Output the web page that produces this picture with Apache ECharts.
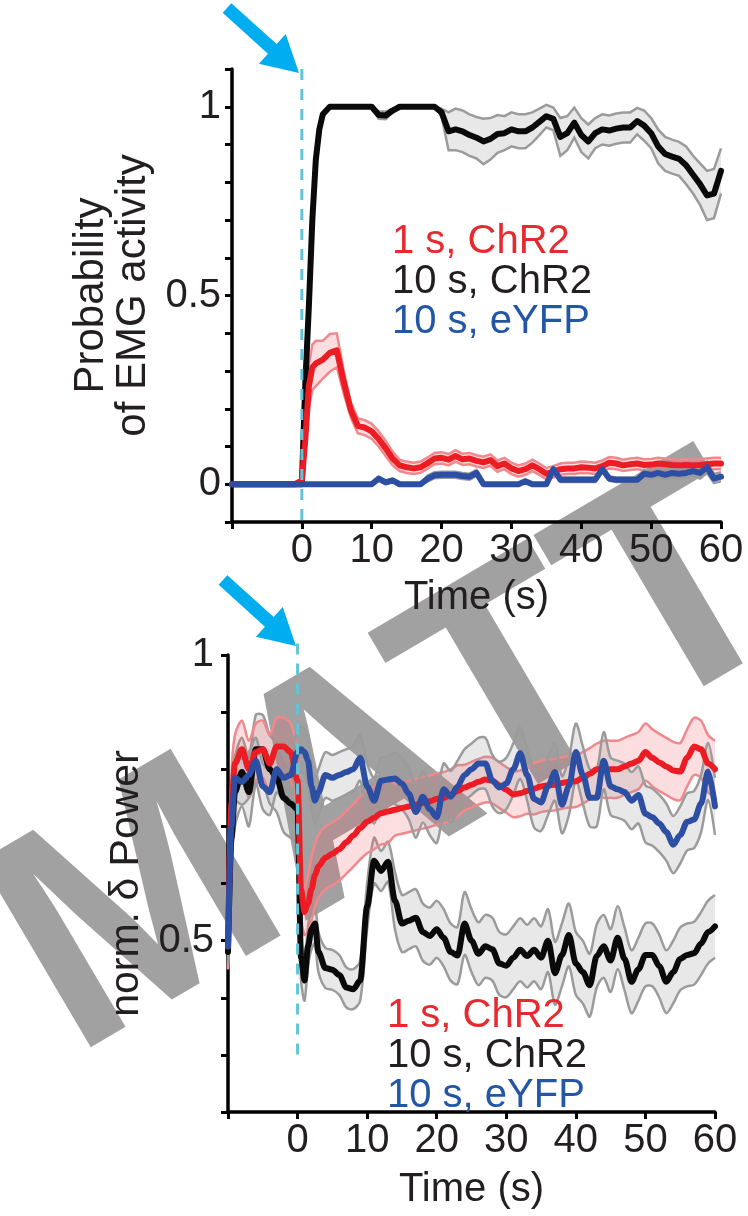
<!DOCTYPE html>
<html>
<head>
<meta charset="utf-8">
<script src="https://cdn.jsdelivr.net/npm/echarts@6/dist/echarts.min.js"></script>
<style>
  html, body { margin: 0; padding: 0; background: #ffffff; }
  #chart { width: 748px; height: 1216px; }
</style>
</head>
<body>
<div id="chart"></div>
<script>
// Sample times (s), shared by both panels
const time = [-10, -9.5, -9, -8, -7, -6, -5, -4, -3, -2, -1,
  0, 0.5, 1, 1.5, 2, 2.5, 3,
  4, 5, 6, 7, 8, 9, 10, 11, 12, 13,
  14, 15, 16, 17, 18, 19, 20, 21, 22, 23,
  24, 25, 26, 27, 28, 29, 30, 31, 32, 33,
  34, 35, 36, 37, 38, 39, 40, 41, 42, 43,
  44, 45, 46, 47, 48, 49, 50, 51, 52, 53,
  54, 55, 56, 57, 58, 59, 60];

const groupNames = ['1 s, ChR2', '10 s, ChR2', '10 s, eYFP'];

// Panel A: probability of EMG activity (mean and s.e.m.)
const emgRed = [0, 0, 0, 0, 0, 0, 0, 0, 0, 0, 0,
  0.01, 0.12, 0.26, 0.31, 0.32, 0.325, 0.33,
  0.348, 0.355, 0.27, 0.197, 0.155, 0.15, 0.14, 0.12, 0.095, 0.068,
  0.05, 0.045, 0.042, 0.045, 0.056, 0.068, 0.07, 0.065, 0.075, 0.066,
  0.068, 0.062, 0.058, 0.064, 0.048, 0.055, 0.042, 0.035, 0.04, 0.05,
  0.04, 0.028, 0.033, 0.04, 0.042, 0.042, 0.045, 0.044, 0.042, 0.048,
  0.057, 0.055, 0.05, 0.053, 0.055, 0.051, 0.052, 0.055, 0.053, 0.051,
  0.05, 0.051, 0.05, 0.051, 0.053, 0.055, 0.055];
const emgRedSem = [0, 0, 0, 0, 0, 0, 0, 0, 0, 0, 0,
  0.005, 0.03, 0.055, 0.06, 0.06, 0.055, 0.05,
  0.05, 0.045, 0.03, 0.02, 0.02, 0.02, 0.02, 0.02, 0.02, 0.018,
  0.015, 0.015, 0.015, 0.015, 0.015, 0.015, 0.015, 0.015, 0.015, 0.015,
  0.015, 0.015, 0.015, 0.015, 0.015, 0.015, 0.015, 0.015, 0.015, 0.015,
  0.015, 0.015, 0.015, 0.015, 0.015, 0.015, 0.015, 0.015, 0.015, 0.015,
  0.015, 0.015, 0.015, 0.015, 0.015, 0.015, 0.015, 0.015, 0.015, 0.015,
  0.015, 0.015, 0.015, 0.015, 0.015, 0.015, 0.015];
const emgBlack = [0, 0, 0, 0, 0, 0, 0, 0, 0, 0, 0,
  0, 0.27, 0.47, 0.70, 0.86, 0.94, 0.98,
  1, 1, 1, 1, 1, 1, 1, 0.978, 0.977, 0.99,
  1, 1, 1, 1, 1, 1, 0.985, 0.935, 0.94, 0.935,
  0.925, 0.918, 0.908, 0.915, 0.928, 0.93, 0.94, 0.935, 0.935, 0.945,
  0.96, 0.975, 0.968, 0.92, 0.93, 0.958, 0.925, 0.908, 0.93, 0.94,
  0.937, 0.942, 0.945, 0.945, 0.962, 0.95, 0.93, 0.895, 0.875, 0.868,
  0.862, 0.845, 0.82, 0.795, 0.765, 0.77, 0.83];
const emgBlackSem = [0, 0, 0, 0, 0, 0, 0, 0, 0, 0, 0,
  0, 0.01, 0.01, 0.01, 0.005, 0.005, 0,
  0, 0, 0, 0, 0, 0, 0, 0.01, 0.01, 0.005,
  0, 0, 0, 0, 0, 0, 0.01, 0.05, 0.055, 0.055,
  0.055, 0.055, 0.06, 0.055, 0.05, 0.045, 0.045, 0.045, 0.045, 0.04,
  0.035, 0.03, 0.03, 0.05, 0.045, 0.04, 0.045, 0.045, 0.04, 0.04,
  0.04, 0.04, 0.04, 0.04, 0.035, 0.04, 0.04, 0.045, 0.045, 0.045,
  0.045, 0.05, 0.05, 0.055, 0.065, 0.065, 0.06];
const emgBlue = [0, 0, 0, 0, 0, 0, 0, 0, 0, 0, 0,
  0, 0, 0, 0, 0, 0, 0,
  0, 0, 0, 0, 0, 0, 0, 0.015, 0.005, 0.01,
  0, 0, 0, 0, 0.015, 0.024, 0.025, 0.025, 0.025, 0.022,
  0.02, 0.03, 0, 0, 0, 0, 0, 0, 0.008, 0,
  0, 0, 0.04, 0.012, 0.012, 0.012, 0.012, 0.012, 0.012, 0.04,
  0.015, 0.012, 0.012, 0.012, 0.012, 0.028, 0.025, 0.03, 0.025, 0.03,
  0.028, 0.03, 0.035, 0.03, 0.045, 0.015, 0.02];
const emgBlueSem = [0, 0, 0, 0, 0, 0, 0, 0, 0, 0, 0,
  0, 0, 0, 0, 0, 0, 0,
  0, 0, 0, 0, 0, 0, 0, 0.005, 0.005, 0.005,
  0, 0, 0, 0, 0.008, 0.008, 0.008, 0.008, 0.008, 0.008,
  0.008, 0.008, 0, 0, 0, 0, 0, 0, 0.004, 0,
  0, 0, 0.006, 0.006, 0.006, 0.006, 0.006, 0.006, 0.006, 0.006,
  0.006, 0.006, 0.006, 0.006, 0.006, 0.01, 0.01, 0.012, 0.012, 0.012,
  0.012, 0.012, 0.012, 0.015, 0.015, 0.012, 0.012];

// Panel B: normalised delta power (mean and s.e.m.)
const deltaRed = [0.49, 0.74, 0.81, 0.835, 0.80, 0.83, 0.835, 0.81, 0.84, 0.84, 0.83,
  0.78, 0.59, 0.55, 0.565, 0.59, 0.615, 0.63,
  0.645, 0.652, 0.66, 0.672, 0.684, 0.697, 0.708, 0.715, 0.723, 0.726,
  0.729, 0.732, 0.735, 0.738, 0.741, 0.744, 0.748, 0.75, 0.755, 0.762,
  0.768, 0.773, 0.778, 0.782, 0.78, 0.772, 0.764, 0.756, 0.758, 0.762,
  0.766, 0.77, 0.772, 0.773, 0.776, 0.778, 0.779, 0.785, 0.792, 0.80,
  0.80, 0.80, 0.80, 0.805, 0.81, 0.815, 0.83, 0.82, 0.812, 0.805,
  0.798, 0.796, 0.82, 0.84, 0.835, 0.81, 0.80];
const deltaRedSem = [0.04, 0.05, 0.05, 0.05, 0.05, 0.05, 0.05, 0.05, 0.05, 0.05, 0.05,
  0.05, 0.045, 0.04, 0.05, 0.055, 0.055, 0.055,
  0.055, 0.055, 0.055, 0.055, 0.055, 0.055, 0.055, 0.055, 0.055, 0.055,
  0.045, 0.045, 0.045, 0.045, 0.045, 0.045, 0.045, 0.045, 0.045, 0.045,
  0.04, 0.04, 0.04, 0.04, 0.04, 0.04, 0.04, 0.04, 0.04, 0.04,
  0.045, 0.045, 0.045, 0.045, 0.045, 0.045, 0.045, 0.045, 0.045, 0.045,
  0.05, 0.05, 0.05, 0.05, 0.05, 0.05, 0.05, 0.05, 0.05, 0.05,
  0.05, 0.05, 0.05, 0.05, 0.05, 0.05, 0.05];
const deltaBlack = [0.48, 0.68, 0.76, 0.795, 0.76, 0.835, 0.835, 0.80, 0.785, 0.75, 0.74,
  0.73, 0.47, 0.43, 0.49, 0.52, 0.53, 0.48,
  0.452, 0.449, 0.44, 0.418, 0.415, 0.43, 0.56, 0.64, 0.622, 0.638,
  0.57, 0.53, 0.535, 0.54, 0.515, 0.508, 0.52, 0.505, 0.48, 0.474,
  0.53, 0.50, 0.477, 0.49, 0.485, 0.46, 0.456, 0.47, 0.484, 0.473,
  0.484, 0.47, 0.50, 0.443, 0.475, 0.51, 0.46, 0.445, 0.422, 0.473,
  0.49, 0.465, 0.505, 0.468, 0.428, 0.45, 0.475, 0.475, 0.455, 0.428,
  0.445, 0.468, 0.475, 0.478, 0.495, 0.515, 0.525];
const deltaBlackSem = [0.03, 0.05, 0.06, 0.06, 0.06, 0.06, 0.06, 0.06, 0.06, 0.06, 0.06,
  0.06, 0.04, 0.035, 0.035, 0.035, 0.035, 0.035,
  0.035, 0.035, 0.035, 0.035, 0.035, 0.035, 0.04, 0.04, 0.035, 0.035,
  0.05, 0.05, 0.05, 0.05, 0.05, 0.05, 0.05, 0.05, 0.05, 0.05,
  0.055, 0.055, 0.055, 0.055, 0.055, 0.055, 0.055, 0.055, 0.055, 0.055,
  0.055, 0.055, 0.055, 0.055, 0.055, 0.055, 0.055, 0.055, 0.055, 0.055,
  0.055, 0.055, 0.055, 0.055, 0.055, 0.055, 0.055, 0.055, 0.055, 0.055,
  0.055, 0.055, 0.055, 0.055, 0.055, 0.055, 0.055];
const deltaBlue = [0.49, 0.70, 0.785, 0.778, 0.79, 0.815, 0.77, 0.76, 0.80, 0.785, 0.79,
  0.83, 0.835, 0.83, 0.815, 0.77, 0.745, 0.76,
  0.79, 0.785, 0.79, 0.795, 0.80, 0.82, 0.77, 0.745, 0.78, 0.782,
  0.784, 0.775, 0.757, 0.725, 0.752, 0.73, 0.716, 0.765, 0.752, 0.77,
  0.79, 0.80, 0.81, 0.81, 0.78, 0.768, 0.775, 0.80, 0.828, 0.79,
  0.748, 0.742, 0.77, 0.795, 0.738, 0.77, 0.83, 0.79, 0.75, 0.75,
  0.815, 0.77, 0.765, 0.76, 0.745, 0.755, 0.722, 0.716, 0.705, 0.69,
  0.668, 0.685, 0.708, 0.712, 0.74, 0.796, 0.735];
const deltaBlueSem = [0.03, 0.04, 0.04, 0.04, 0.04, 0.04, 0.04, 0.04, 0.04, 0.04, 0.04,
  0.04, 0.04, 0.04, 0.04, 0.04, 0.04, 0.04,
  0.04, 0.04, 0.04, 0.04, 0.04, 0.04, 0.04, 0.04, 0.04, 0.04,
  0.045, 0.045, 0.045, 0.045, 0.045, 0.045, 0.045, 0.045, 0.045, 0.045,
  0.045, 0.045, 0.045, 0.045, 0.045, 0.045, 0.045, 0.045, 0.045, 0.045,
  0.05, 0.05, 0.05, 0.05, 0.05, 0.05, 0.05, 0.05, 0.05, 0.05,
  0.05, 0.05, 0.05, 0.05, 0.05, 0.05, 0.05, 0.05, 0.05, 0.05,
  0.05, 0.05, 0.05, 0.05, 0.05, 0.05, 0.05];

// Stimulus onset marker (t = 0), vertical extent in each panel
const cueTime = 0;
const cueSpanA = [1.1, -0.1];
const cueSpanB = [1.02, 0.3];

const FONT = '"Liberation Sans", Arial, Helvetica, sans-serif';
const INK = '#231f20';
const RED = '#ec1c24';
const BLACK = '#0a0a0a';
const BLUE = '#2c4ea3';
const RED_TXT = '#e62a2f';
const BLUE_TXT = '#2456a6';
const GRAY_EDGE = '#9b9b9b';
const PINK_EDGE = '#f0888c';
const GRAY_FILL = 'rgba(150,150,150,0.22)';
const PINK_FILL = 'rgba(240,90,100,0.2)';
const CUE = '#62c5d7';
const ARROW = '#00aeef';

function shadedBand(idx, mean, sem, fill, edge, smooth) {
  const rows = time.map((t, i) => [t, mean[i] - sem[i], mean[i] + sem[i]]);
  return {
    type: 'custom', xAxisIndex: idx, yAxisIndex: idx, silent: true, z: 2,
    data: rows, encode: { x: 0, y: [1, 2] },
    renderItem(params, api) {
      if (params.dataIndex !== 0) return null;
      const hi = rows.map(r => api.coord([r[0], r[2]]));
      const lo = rows.map(r => api.coord([r[0], r[1]]));
      return {
        type: 'group',
        children: [
          { type: 'polygon', shape: { points: hi.concat(lo.slice().reverse()), smooth: 0 }, style: { fill: fill } },
          { type: 'polyline', shape: { points: hi, smooth: smooth }, style: { stroke: edge, lineWidth: 2.5, fill: null } },
          { type: 'polyline', shape: { points: lo, smooth: smooth }, style: { stroke: edge, lineWidth: 2.5, fill: null } }
        ]
      };
    }
  };
}

function meanLine(idx, name, mean, color, z, smooth) {
  return {
    type: 'line', name: name, xAxisIndex: idx, yAxisIndex: idx,
    data: time.map((t, i) => [t, mean[i]]),
    symbol: 'none', showSymbol: false, smooth: smooth, smoothMonotone: 'x',
    lineStyle: { color: color, width: 6, join: 'round', cap: 'round' },
    itemStyle: { color: color }, z: z, silent: true
  };
}

function cueLine(idx, span) {
  return {
    type: 'line', xAxisIndex: idx, yAxisIndex: idx, silent: true, clip: false,
    data: span.map(v => [cueTime, v]), symbol: 'none', z: 6,
    lineStyle: { color: CUE, width: 3, type: [11, 9] }
  };
}

function xAxisCfg(idx) {
  return {
    type: 'value', gridIndex: idx, min: -10, max: 60, interval: 10,
    name: 'Time (s)', nameLocation: 'middle', nameGap: idx ? 58 : 56,
    nameTextStyle: { fontFamily: FONT, fontSize: 40, color: INK },
    axisLine: { onZero: false, lineStyle: { color: '#000', width: 3.5 } },
    axisTick: { length: 7, lineStyle: { color: '#000', width: 3 } },
    axisLabel: { margin: 9, fontFamily: FONT, fontSize: 40, color: INK,
      formatter: v => (v < 0 ? '' : String(v)) },
    splitLine: { show: false }
  };
}

function yLabel(keep) {
  return v => {
    for (const k of keep) if (Math.abs(v - k) < 1e-6) return String(k);
    return '';
  };
}

const option = {
  animation: false,
  backgroundColor: '#ffffff',
  grid: [
    { left: 232, top: 69, width: 489, height: 453 },
    { left: 228, top: 655, width: 487, height: 457 }
  ],
  xAxis: [xAxisCfg(0), xAxisCfg(1)],
  yAxis: [
    {
      type: 'value', gridIndex: 0, min: -0.1, max: 1.1, interval: 0.1,
      name: 'Probability\nof EMG activity', nameLocation: 'middle', nameRotate: 90, nameGap: 56,
      nameTextStyle: { fontFamily: FONT, fontSize: 42, color: INK, lineHeight: 42 },
      axisLine: { onZero: false, lineStyle: { color: '#000', width: 3.5 } },
      axisTick: { length: 7, lineStyle: { color: '#000', width: 3 } },
      axisLabel: { margin: 11, fontFamily: FONT, fontSize: 40, color: INK, formatter: yLabel([0, 0.5, 1]) },
      splitLine: { show: false }
    },
    {
      type: 'value', gridIndex: 1, min: 0.2, max: 1.0, interval: 0.1,
      name: 'norm. δ Power', nameLocation: 'middle', nameRotate: 90, nameGap: 64,
      nameTextStyle: { fontFamily: FONT, fontSize: 41, color: INK },
      axisLine: { onZero: false, lineStyle: { color: '#000', width: 3.5 } },
      axisTick: { length: 7, lineStyle: { color: '#000', width: 3 } },
      axisLabel: { margin: 14, fontFamily: FONT, fontSize: 40, color: INK, formatter: yLabel([0.5, 1]) },
      splitLine: { show: false }
    }
  ],
  legend: [
    {
      left: 387, top: 222, orient: 'vertical', icon: 'none', itemWidth: 0, itemHeight: 10,
      itemGap: 0, padding: 0, selectedMode: false,
      textStyle: { fontFamily: FONT, fontSize: 40, lineHeight: 40 },
      data: [
        { name: groupNames[0], textStyle: { color: RED_TXT } },
        { name: groupNames[1], textStyle: { color: INK } },
        { name: groupNames[2], textStyle: { color: BLUE_TXT } }
      ]
    },
    {
      left: 382, top: 996, orient: 'vertical', icon: 'none', itemWidth: 0, itemHeight: 10,
      itemGap: 0, padding: 0, selectedMode: false,
      textStyle: { fontFamily: FONT, fontSize: 40, lineHeight: 36 },
      data: [
        { name: groupNames[0], textStyle: { color: RED_TXT } },
        { name: groupNames[1], textStyle: { color: INK } },
        { name: groupNames[2], textStyle: { color: BLUE_TXT } }
      ]
    }
  ],
  series: [
    shadedBand(0, emgBlack, emgBlackSem, GRAY_FILL, GRAY_EDGE, 0),
    shadedBand(0, emgRed, emgRedSem, PINK_FILL, PINK_EDGE, 0),
    shadedBand(0, emgBlue, emgBlueSem, GRAY_FILL, GRAY_EDGE, 0),
    meanLine(0, groupNames[1], emgBlack, BLACK, 3, false),
    meanLine(0, groupNames[0], emgRed, RED, 4, false),
    meanLine(0, groupNames[2], emgBlue, BLUE, 5, false),
    cueLine(0, cueSpanA),

    shadedBand(1, deltaBlack, deltaBlackSem, GRAY_FILL, GRAY_EDGE, 0.3),
    shadedBand(1, deltaRed, deltaRedSem, PINK_FILL, PINK_EDGE, 0.3),
    shadedBand(1, deltaBlue, deltaBlueSem, GRAY_FILL, GRAY_EDGE, 0.3),
    meanLine(1, groupNames[1], deltaBlack, BLACK, 3, 0.3),
    meanLine(1, groupNames[0], deltaRed, RED, 4, 0.3),
    meanLine(1, groupNames[2], deltaBlue, BLUE, 5, 0.3),
    cueLine(1, cueSpanB)
  ],
  graphic: []
};

// Cue arrows pointing at stimulus onset
function arrow(tail, tip) {
  const dx = tip[0] - tail[0], dy = tip[1] - tail[1];
  const L = Math.sqrt(dx * dx + dy * dy);
  const H = 36, hw = 20, sw = 6.5;
  return {
    type: 'polygon', x: tail[0], y: tail[1], rotation: -Math.atan2(dy, dx), z: 20,
    shape: { points: [[0, -sw], [L - H, -sw], [L - H, -hw], [L, 0], [L - H, hw], [L - H, sw], [0, sw]] },
    style: { fill: ARROW }, silent: true
  };
}
option.graphic.push(arrow([227, 8], [299, 73]));
option.graphic.push(arrow([223, 580], [296, 646]));

// Diagonal stamp across the figure
option.graphic.push({
  type: 'group', x: 75, y: 1062, rotation: 30.5 * Math.PI / 180, z: 50, silent: true,
  children: [{
    type: 'text', x: 0, y: 66,
    style: { text: 'MATT', font: 'bold 315px ' + FONT, fill: 'rgba(0,0,0,0.37)',
      textAlign: 'left', textVerticalAlign: 'bottom' }
  }]
});

const chart = echarts.init(document.getElementById('chart'), null, { renderer: 'canvas' });
chart.setOption(option);
</script>
</body>
</html>
